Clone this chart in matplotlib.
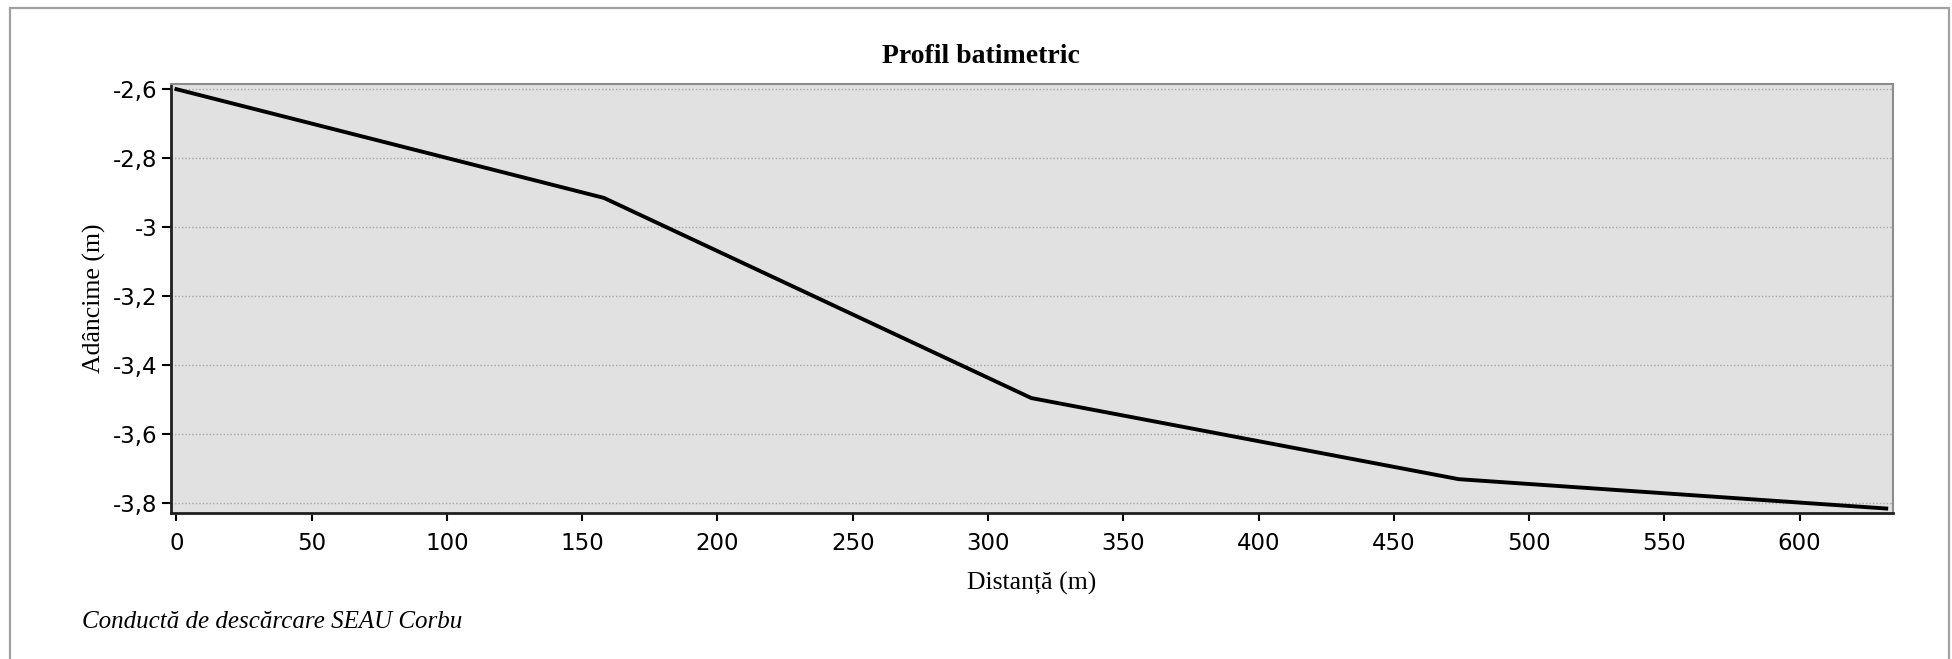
import matplotlib
matplotlib.use("Agg")
import matplotlib.pyplot as plt
from matplotlib.patches import Rectangle

# date profil
distanta = [0, 158, 316, 474, 632]
adancime = [-2.6, -2.915, -3.495, -3.73, -3.815]

x_ticks = [0, 50, 100, 150, 200, 250, 300, 350, 400, 450, 500, 550, 600]
y_ticks = [-2.6, -2.8, -3.0, -3.2, -3.4, -3.6, -3.8]
y_labels = ["-2,6", "-2,8", "-3", "-3,2", "-3,4", "-3,6", "-3,8"]

titlu = "Profil batimetric"
eticheta_x = "Distanță (m)"
eticheta_y = "Adâncime (m)"
nota = "Conductă de descărcare SEAU Corbu"

serif = ["Liberation Serif", "DejaVu Serif"]
sans = ["DejaVu Sans"]

W, H = 1952, 659
fig = plt.figure(figsize=(W / 100, H / 100), dpi=100)
fig.patch.set_facecolor("white")

# chenar exterior
fig.patches.append(Rectangle((9.5 / W, -0.05), (1948.5 - 9.5) / W, 1.05 - 7.5 / H,
                             transform=fig.transFigure, fill=False,
                             edgecolor="#a0a0a0", linewidth=1.6))

ax = fig.add_axes([171 / W, 1 - 513 / H, (1893 - 171) / W, (513 - 84) / H])
ax.set_facecolor("#e1e1e1")

ax.plot(distanta, adancime, color="black", linewidth=2.8, solid_joinstyle="miter", zorder=3)

ax.set_xlim(-2, 634.5)
ax.set_ylim(-3.828, -2.585)

ax.set_xticks(x_ticks)
ax.set_xticklabels([str(v) for v in x_ticks], fontfamily=sans, fontsize=16.5)
ax.set_yticks(y_ticks)
ax.set_yticklabels(y_labels, fontfamily=sans, fontsize=16.5)

ax.grid(axis="y", color="#a8a8a8", linestyle=(0, (1, 1.5)), linewidth=1.0)
ax.set_axisbelow(True)

ax.tick_params(axis="x", direction="out", length=6, width=1.5, color="black", pad=8)
ax.tick_params(axis="y", direction="out", length=6.5, width=1.5, color="black", pad=3)

for s in ["left", "bottom"]:
    ax.spines[s].set_color("#202020")
    ax.spines[s].set_linewidth(2)
for s in ["top", "right"]:
    ax.spines[s].set_color("#8c8c8c")
    ax.spines[s].set_linewidth(1.5)

# titlul e centrat pe toata imaginea, nu pe grafic
fig.text(981 / W, 1 - 63 / H, titlu, fontfamily=serif, fontweight="bold",
         fontsize=20, ha="center", va="baseline")
ax.set_xlabel(eticheta_x, fontfamily=serif, fontsize=18.5, labelpad=12)
ax.set_ylabel(eticheta_y, fontfamily=serif, fontsize=18.5, labelpad=5)

fig.text(82 / W, 1 - 622 / H, nota, fontfamily=serif, fontstyle="italic",
         fontsize=18, va="center", ha="left")

fig.savefig("out.png", dpi=100, facecolor="white")
